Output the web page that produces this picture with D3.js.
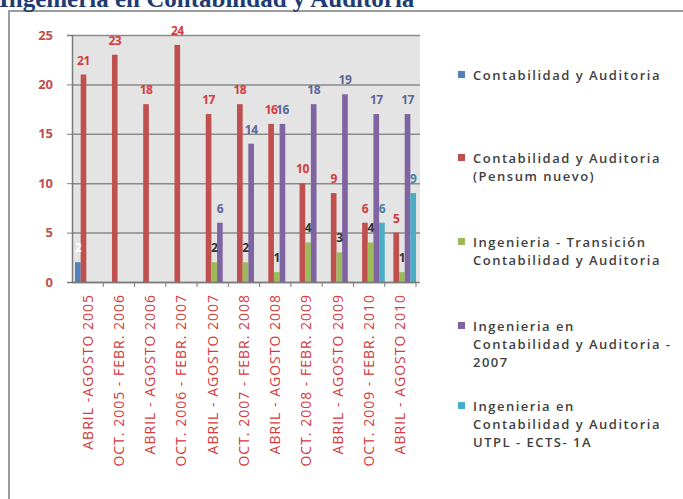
<!DOCTYPE html>
<html>
<head>
<meta charset="utf-8">
<script src="https://cdn.jsdelivr.net/npm/d3@7"></script>
<style>
  body { margin: 0; background: #fff; }
  svg { display: block; }
</style>
</head>
<body>
<svg id="chart" width="683" height="499"></svg>
<script>
// categories (x axis)
const categories = [
  'ABRIL -AGOSTO 2005', 'OCT. 2005 - FEBR. 2006', 'ABRIL - AGOSTO 2006',
  'OCT. 2006 - FEBR. 2007', 'ABRIL - AGOSTO 2007', 'OCT. 2007 - FEBR. 2008',
  'ABRIL - AGOSTO 2008', 'OCT. 2008 - FEBR. 2009', 'ABRIL - AGOSTO 2009',
  'OCT. 2009 - FEBR. 2010', 'ABRIL - AGOSTO 2010'
];

// series values (null = no data)
const contabilidad = [2, null, null, null, null, null, null, null, null, null, null];
const pensumNuevo = [21, 23, 18, 24, 17, 18, 16, 10, 9, 6, 5];
const transicion = [null, null, null, null, 2, 2, 1, 4, 3, 4, 1];
const ing2007 = [null, null, null, null, 6, 14, 16, 18, 19, 17, 17];
const ects = [null, null, null, null, null, null, null, null, null, 6, 9];

const seriesNames = [
  ['Contabilidad y Auditoria'],
  ['Contabilidad y Auditoria', '(Pensum nuevo)'],
  ['Ingenieria - Transición', 'Contabilidad y Auditoria'],
  ['Ingenieria en', 'Contabilidad y Auditoria -', '2007'],
  ['Ingenieria en', 'Contabilidad y Auditoria', 'UTPL - ECTS- 1A']
];
const seriesColors = ['#4f81bd', '#c0504d', '#9bbb59', '#8064a2', '#4bacc6'];
const labelColors = ['#ffffff', '#d03c3c', '#333333', '#5d6699', '#4a7ea6'];

const yTicks = [0, 5, 10, 15, 20, 25];
const title = 'Ingenieria en Contabilidad y Auditoria';

const allSeries = [contabilidad, pensumNuevo, transicion, ing2007, ects];

const svg = d3.select('#chart');
const font = '"Open Sans", Lato, sans-serif';

// frame
svg.append('rect')
  .attr('x', 9).attr('y', 11)
  .attr('width', 690).attr('height', 500)
  .attr('fill', '#fff')
  .attr('stroke', '#9c9c9c')
  .attr('stroke-width', 2);

// title (cropped at the top)
svg.append('text')
  .attr('x', -1).attr('y', 7)
  .attr('font-family', '"Liberation Serif", "Times New Roman", serif')
  .attr('font-weight', 'bold')
  .attr('font-size', 25)
  .attr('fill', '#1f3b73')
  .text(title);

const plotLeft = 72, plotRight = 416, plotTop = 35, plotBottom = 282;

const xScale = d3.scaleBand()
  .domain(categories)
  .range([plotLeft, plotRight])
  .padding(0);

const inner = d3.scaleBand()
  .domain(d3.range(allSeries.length))
  .range([3, xScale.bandwidth()])
  .padding(0);

const yScale = d3.scaleLinear()
  .domain([0, 25])
  .range([plotBottom, plotTop]);

// plot area
svg.append('rect')
  .attr('x', plotLeft).attr('y', plotTop)
  .attr('width', plotRight - plotLeft + 4).attr('height', plotBottom - plotTop)
  .attr('fill', '#e4e4e4');

// grid lines
svg.append('g')
  .attr('transform', `translate(${plotLeft},0)`)
  .call(d3.axisLeft(yScale).tickValues(yTicks).tickSize(-(plotRight - plotLeft + 4)).tickFormat(''))
  .call(g => g.select('.domain').remove())
  .selectAll('line')
  .attr('stroke', '#8a8a8a')
  .attr('stroke-width', 1.5);

// bars
allSeries.forEach((values, si) => {
  const g = svg.append('g');
  const data = values.map((v, i) => ({ cat: categories[i], v })).filter(d => d.v != null);
  g.selectAll('rect')
    .data(data)
    .enter()
    .append('rect')
    .attr('x', d => xScale(d.cat) + inner(si))
    .attr('y', d => yScale(d.v))
    .attr('width', inner.bandwidth())
    .attr('height', d => plotBottom - yScale(d.v))
    .attr('fill', seriesColors[si]);
});

// data labels
allSeries.forEach((values, si) => {
  const data = values.map((v, i) => ({ cat: categories[i], v })).filter(d => d.v != null);
  svg.append('g').selectAll('text')
    .data(data)
    .enter()
    .append('text')
    .attr('x', d => xScale(d.cat) + inner(si) + inner.bandwidth() / 2)
    .attr('y', d => yScale(d.v) - 10)
    .attr('text-anchor', 'middle')
    .attr('font-family', font)
    .attr('font-weight', 'bold')
    .attr('font-size', 12)
    .attr('letter-spacing', -0.5)
    .attr('fill', labelColors[si])
    .text(d => d.v);
});

// y axis
const yAxis = svg.append('g')
  .attr('transform', `translate(${plotLeft},0)`)
  .call(d3.axisLeft(yScale).tickValues(yTicks).tickSize(5).tickPadding(14));
yAxis.select('.domain').attr('stroke', '#7a7a7a').attr('stroke-width', 1.5);
yAxis.selectAll('line').attr('stroke', '#7a7a7a');
yAxis.selectAll('text')
  .attr('font-family', font)
  .attr('font-weight', 'bold')
  .attr('font-size', 13)
  .attr('fill', '#c0504d');

// x axis
const xAxis = svg.append('g')
  .attr('transform', `translate(0,${plotBottom})`)
  .call(d3.axisBottom(xScale).tickSize(0).tickPadding(0));
xAxis.select('.domain').attr('stroke', '#7a7a7a').attr('stroke-width', 1.5);
xAxis.selectAll('text')
  .attr('font-family', font)
  .attr('font-size', 14)
  .attr('letter-spacing', 1)
  .attr('fill', '#d63a3a')
  .attr('text-anchor', 'end')
  .attr('dy', '0.35em')
  .attr('transform', 'translate(0,12) rotate(-90)');

// category boundary ticks
svg.append('g').selectAll('line')
  .data(categories.slice(1).concat([null]))
  .enter()
  .append('line')
  .attr('x1', d => d ? xScale(d) : plotRight)
  .attr('x2', d => d ? xScale(d) : plotRight)
  .attr('y1', plotBottom)
  .attr('y2', plotBottom + 5)
  .attr('stroke', '#7a7a7a');

// legend
const legendY = [75, 158, 242, 326, 406];
const legend = svg.append('g');
seriesNames.forEach((lines, i) => {
  legend.append('rect')
    .attr('x', 458).attr('y', legendY[i] - 4)
    .attr('width', 7).attr('height', 7)
    .attr('fill', seriesColors[i]);
  lines.forEach((line, j) => {
    legend.append('text')
      .attr('x', 473)
      .attr('y', legendY[i] + j * 18)
      .attr('dy', '0.35em')
      .attr('font-family', font)
      .attr('font-weight', 600)
      .attr('font-size', 13)
      .attr('letter-spacing', 1.5)
      .attr('fill', '#3f3f3f')
      .text(line);
  });
});
</script>
</body>
</html>
